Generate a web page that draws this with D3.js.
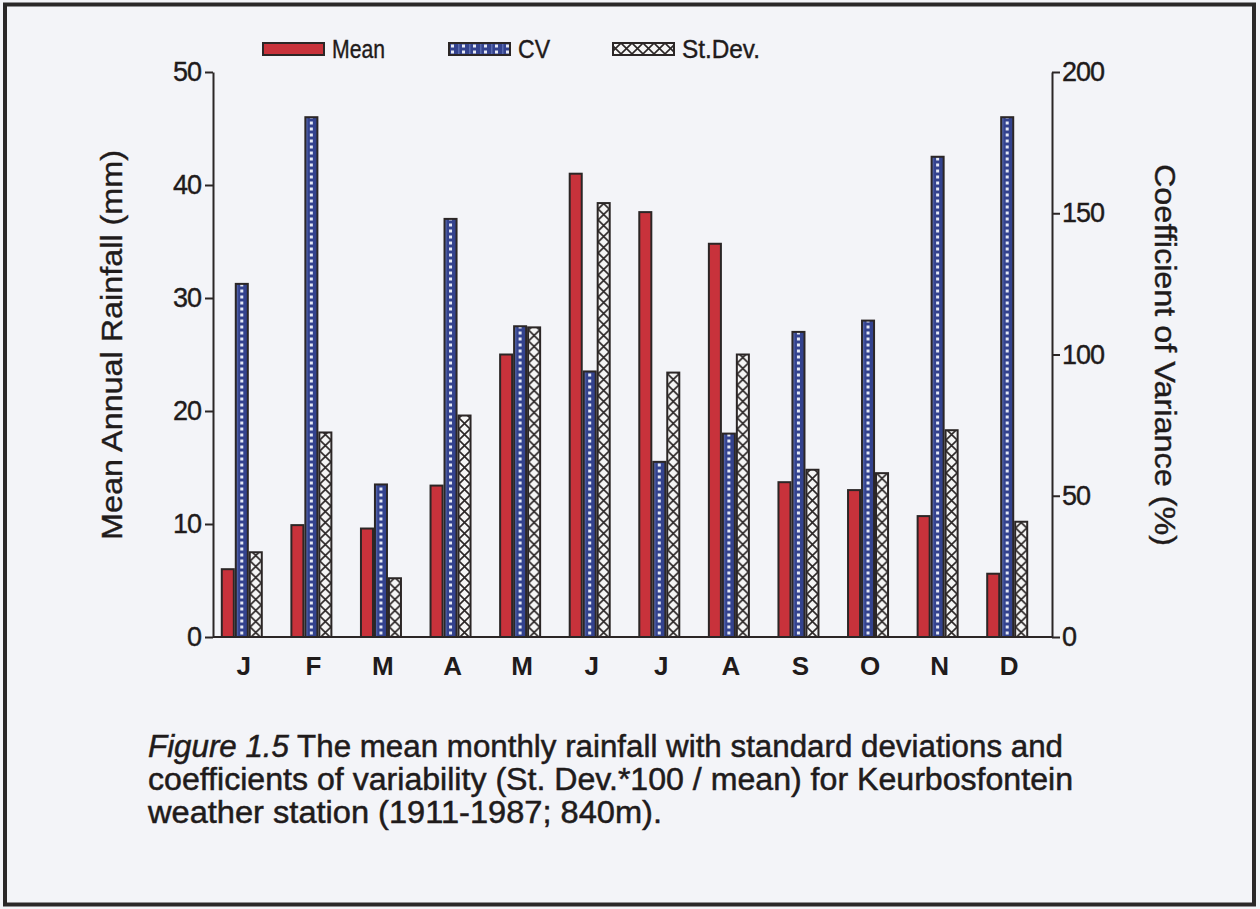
<!DOCTYPE html>
<html>
<head>
<meta charset="utf-8">
<script src="https://cdn.jsdelivr.net/npm/d3@7"></script>
<style>
  body { margin: 0; background: #f3f4f8; }
  svg { display: block; font-family: "Liberation Sans", Arial, sans-serif; }
</style>
</head>
<body>
<div id="chart"></div>
<script>
// data
const months = ["J", "F", "M", "A", "M ", "J ", "J  ", "A ", "S", "O", "N", "D"];
const monthLabels = ["J", "F", "M", "A", "M", "J", "J", "A", "S", "O", "N", "D"];
const meanRain = [6.0, 9.9, 9.6, 13.4, 25.0, 41.0, 37.6, 34.8, 13.7, 13.0, 10.7, 5.6];   // mm, left axis
const cv = [125, 184, 54, 148, 110, 94, 62, 72, 108, 112, 170, 184];                       // %, right axis
const stDev = [7.5, 18.1, 5.2, 19.6, 27.4, 38.4, 23.4, 25.0, 14.8, 14.5, 18.3, 10.2];     // mm, left axis
const seriesNames = ["Mean", "CV", "St.Dev."];
const leftTicks = [0, 10, 20, 30, 40, 50];
const rightTicks = [0, 50, 100, 150, 200];

const W = 1260, H = 909;
const textCol = "#1f1b1b";
const svg = d3.select("#chart").append("svg")
    .attr("width", W).attr("height", H);

svg.append("rect").attr("width", W).attr("height", H).attr("fill", "#f3f4f8");
// scanned page frame
svg.append("rect")
    .attr("x", 5).attr("y", 4.5).attr("width", 1249).attr("height", 900)
    .attr("fill", "none").attr("stroke", "#2a2828").attr("stroke-width", 4);

const defs = svg.append("defs");

// scales
const x0 = d3.scaleBand().domain(months).range([207, 1042]).padding(0);
const x1 = d3.scaleBand().domain(seriesNames).range([0, 40]).paddingInner(0.14);
const yL = d3.scaleLinear().domain([0, 50]).range([637, 72]);
const yR = d3.scaleLinear().domain([0, 200]).range([637, 72]);

const ink = "#2b2626";

// patterns (one per bar so the motif is centred in each bar)
function cvPattern(id, x) {
    const p = defs.append("pattern").attr("id", id)
        .attr("patternUnits", "userSpaceOnUse")
        .attr("x", x).attr("y", 0).attr("width", 11).attr("height", 6);
    p.append("rect").attr("width", 11).attr("height", 6).attr("fill", "#33428e");
    p.append("rect").attr("x", 4).attr("y", 1.5).attr("width", 3).attr("height", 3).attr("fill", "#e4e8f4");
    p.append("rect").attr("x", 0).attr("y", 0).attr("width", 1.5).attr("height", 6).attr("fill", "#5a6bb0");
}
function sdPattern(id, x) {
    const p = defs.append("pattern").attr("id", id)
        .attr("patternUnits", "userSpaceOnUse")
        .attr("x", x).attr("y", 0).attr("width", 11).attr("height", 11);
    p.append("rect").attr("width", 11).attr("height", 11).attr("fill", "#f5f5f5");
    p.append("path").attr("d", "M0,0L11,11M11,0L0,11")
        .attr("stroke", "#2b2626").attr("stroke-width", 1.6);
}

const bars = [];
months.forEach((m, i) => {
    bars.push({ s: "Mean", i, y: yL(meanRain[i]) });
    bars.push({ s: "CV", i, y: yR(cv[i]) });
    bars.push({ s: "St.Dev.", i, y: yL(stDev[i]) });
});

const bw = x1.bandwidth();
const gx = d => x0(months[d.i]) + x0.bandwidth() / 2 - 20 + x1(d.s);

bars.forEach((d, k) => {
    if (d.s === "CV") cvPattern("cv" + k, gx(d) + 0.5);
    if (d.s === "St.Dev.") sdPattern("sd" + k, gx(d) + 0.5);
});

svg.append("g").selectAll("rect")
    .data(bars)
    .join("rect")
    .attr("x", gx)
    .attr("y", d => d.y)
    .attr("width", bw)
    .attr("height", d => 637 - d.y)
    .attr("fill", (d, k) => d.s === "Mean" ? "#c8323b" : d.s === "CV" ? `url(#cv${k})` : `url(#sd${k})`)
    .attr("stroke", ink)
    .attr("stroke-width", 2);

// baseline
svg.append("line")
    .attr("x1", 213).attr("x2", 1052).attr("y1", 637).attr("y2", 637)
    .attr("stroke", ink).attr("stroke-width", 2);

// left axis
const gl = svg.append("g").attr("transform", "translate(213,0)")
    .call(d3.axisLeft(yL).tickValues(leftTicks).tickSize(8).tickSizeOuter(0).tickPadding(4));
// right axis
const gr = svg.append("g").attr("transform", "translate(1052,0)")
    .call(d3.axisRight(yR).tickValues(rightTicks).tickSize(8).tickSizeOuter(0).tickPadding(2));

[gl, gr].forEach(g => {
    g.select(".domain").attr("stroke", ink).attr("stroke-width", 2);
    g.selectAll(".tick line").attr("stroke", ink).attr("stroke-width", 2);
    g.selectAll(".tick text").attr("fill", textCol)
        .style("font-size", "27px").style("font-family", "Liberation Sans, Arial, sans-serif")
        .attr("letter-spacing", "-1px")
        .attr("stroke", textCol).attr("stroke-width", 0.4);
});

// month labels
svg.append("g").selectAll("text")
    .data(months)
    .join("text")
    .attr("x", d => x0(d) + x0.bandwidth() / 2 + 2)
    .attr("y", 675)
    .attr("text-anchor", "middle")
    .attr("font-size", 26)
    .attr("font-weight", "bold")
    .attr("fill", textCol)
    .text((d, i) => monthLabels[i]);

// axis titles
svg.append("text")
    .attr("transform", "translate(122,345) rotate(-90)")
    .attr("text-anchor", "middle")
    .attr("font-size", 29)
    .attr("textLength", 390).attr("lengthAdjust", "spacingAndGlyphs")
    .attr("fill", textCol).attr("stroke", textCol).attr("stroke-width", 0.4)
    .text("Mean Annual Rainfall (mm)");

svg.append("text")
    .attr("transform", "translate(1155,355) rotate(90)")
    .attr("text-anchor", "middle")
    .attr("font-size", 29)
    .attr("textLength", 382).attr("lengthAdjust", "spacingAndGlyphs")
    .attr("fill", textCol).attr("stroke", textCol).attr("stroke-width", 0.4)
    .text("Coefficient of Variance (%)");

// legend
const legendX = [263, 449, 613];
const legendW = [53, 32, 78];
const lg = svg.append("g").selectAll("g")
    .data(seriesNames)
    .join("g")
    .attr("transform", (d, i) => `translate(${legendX[i]},43)`);
seriesNames.forEach((s, i) => {
    if (s === "CV") cvPattern("cvLeg", legendX[i]);
    if (s === "St.Dev.") sdPattern("sdLeg", legendX[i]);
});
lg.append("rect")
    .attr("width", 61).attr("height", 12)
    .attr("fill", d => d === "Mean" ? "#c8323b" : d === "CV" ? "url(#cvLeg)" : "url(#sdLeg)")
    .attr("stroke", ink).attr("stroke-width", 2);
lg.append("text")
    .attr("x", 69).attr("y", 15)
    .attr("font-size", 26)
    .attr("textLength", (d, i) => legendW[i]).attr("lengthAdjust", "spacingAndGlyphs")
    .attr("fill", textCol).attr("stroke", textCol).attr("stroke-width", 0.4)
    .text(d => d);

// caption
const caption = [
    [["Figure 1.5", true], [" The mean monthly rainfall with standard deviations and", false]],
    [["coefficients of variability (St. Dev.*100 / mean) for Keurbosfontein", false]],
    [["weather station (1911-1987; 840m).", false]]
];
const capW = [915, 925, 514];
caption.forEach((line, li) => {
    const t = svg.append("text")
        .attr("x", 148).attr("y", 757 + li * 33)
        .attr("font-size", 31)
        .attr("textLength", capW[li]).attr("lengthAdjust", "spacingAndGlyphs")
        .attr("fill", textCol).attr("stroke", textCol).attr("stroke-width", 0.5);
    line.forEach(([s, it]) => {
        t.append("tspan").attr("font-style", it ? "italic" : "normal").text(s);
    });
});
</script>
</body>
</html>
